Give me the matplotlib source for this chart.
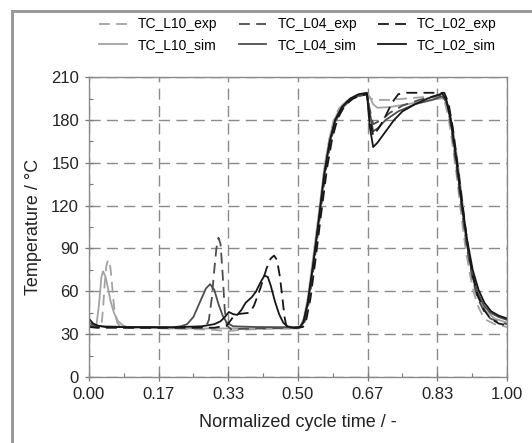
import matplotlib
matplotlib.use("Agg")
import matplotlib.pyplot as plt
from matplotlib.patches import Rectangle
from matplotlib.ticker import MultipleLocator

plt.rcParams['font.family'] = ['Liberation Sans', 'DejaVu Sans']

# === Data ===
x_l10_exp = [0, 0.02, 0.03, 0.034, 0.038, 0.042, 0.046, 0.05, 0.054, 0.058, 0.062, 0.068, 0.076, 0.1, 0.2, 0.3,
             0.33, 0.36, 0.45, 0.5, 0.508, 0.516, 0.526, 0.538, 0.55, 0.563, 0.575, 0.585, 0.598, 0.615, 0.635,
             0.655, 0.666, 0.674, 0.69, 0.72, 0.76, 0.8, 0.84, 0.85, 0.86, 0.87, 0.88, 0.89, 0.9, 0.91, 0.92,
             0.93, 0.94, 0.95, 0.97, 1.0]
y_l10_exp = [35.5, 34.5, 35, 48, 66, 78, 82, 80, 70, 56, 45, 38, 35, 34.5, 34, 33, 32, 33, 34, 34, 35.5, 41,
             56, 83, 112, 145, 166, 179, 188, 193, 196, 197.5, 198.5, 195, 194, 194, 195, 196, 196, 194, 182,
             162, 140, 115, 92, 74, 60, 50, 44, 40, 37, 35]

x_l10_sim = [0, 0.01, 0.018, 0.024, 0.03, 0.034, 0.04, 0.046, 0.052, 0.06, 0.07, 0.08, 0.09, 0.1, 0.2, 0.3,
             0.4, 0.5, 0.506, 0.514, 0.524, 0.537, 0.55, 0.564, 0.576, 0.587, 0.6, 0.615, 0.63, 0.65, 0.665,
             0.672, 0.68, 0.69, 0.72, 0.76, 0.8, 0.84, 0.85, 0.86, 0.87, 0.88, 0.89, 0.9, 0.91, 0.92, 0.93,
             0.95, 0.97, 1.0]
y_l10_sim = [36, 35, 36, 50, 70, 74, 70, 62, 53, 45, 39, 36.5, 35, 34.5, 34, 34, 34, 34, 35.5, 41, 56, 85,
             115, 148, 168, 180, 188, 193, 195.5, 197, 198, 196, 191, 188.5, 189, 191, 193, 195, 195, 190, 175,
             155, 131, 106, 84, 67, 56, 46, 41, 38]

x_l04_exp = [0, 0.02, 0.1, 0.2, 0.28, 0.287, 0.294, 0.3, 0.305, 0.31, 0.315, 0.32, 0.325, 0.33, 0.34, 0.4,
             0.5, 0.51, 0.518, 0.528, 0.54, 0.553, 0.567, 0.58, 0.593, 0.61, 0.63, 0.65, 0.665, 0.672, 0.68,
             0.7, 0.72, 0.75, 0.79, 0.83, 0.848, 0.858, 0.868, 0.88, 0.892, 0.905, 0.918, 0.93, 0.945, 0.96,
             0.98, 1.0]
y_l04_exp = [36, 35, 34.5, 34.5, 35, 40, 55, 75, 90, 97.5, 93, 72, 47, 36, 33.5, 34, 34.5, 35, 40, 55, 82,
             113, 145, 167, 181, 190, 195, 197, 198, 187, 177, 180, 185, 190, 194, 197, 197, 190, 172, 145,
             117, 89, 68, 55, 46, 41, 38.5, 37]

x_l04_sim = [0, 0.01, 0.03, 0.1, 0.2, 0.22, 0.235, 0.25, 0.265, 0.28, 0.29, 0.3, 0.31, 0.32, 0.33, 0.345, 0.4,
             0.5, 0.506, 0.513, 0.523, 0.536, 0.549, 0.562, 0.575, 0.588, 0.605, 0.625, 0.645, 0.665, 0.672,
             0.68, 0.69, 0.71, 0.74, 0.78, 0.82, 0.845, 0.855, 0.865, 0.877, 0.89, 0.903, 0.916, 0.93, 0.945,
             0.96, 0.98, 1.0]
y_l04_sim = [38, 36.5, 35.5, 35, 34.8, 35.5, 37, 42, 52, 62, 65, 61, 51, 43, 38, 35.5, 35, 34.8, 35.5, 39,
             51, 77, 107, 140, 163, 178, 188, 194, 197, 198.5, 185, 172, 174, 180, 186, 191, 194, 196.5, 193,
             180, 155, 124, 95, 73, 59, 50, 45, 42, 40]

x_l02_exp = [0, 0.02, 0.1, 0.2, 0.3, 0.33, 0.345, 0.355, 0.37, 0.385, 0.395, 0.41, 0.425, 0.435, 0.443, 0.45,
             0.457, 0.463, 0.468, 0.472, 0.48, 0.5, 0.512, 0.52, 0.53, 0.542, 0.555, 0.57, 0.582, 0.595, 0.612,
             0.632, 0.65, 0.665, 0.672, 0.68, 0.695, 0.71, 0.725, 0.74, 0.76, 0.85, 0.86, 0.87, 0.882, 0.894,
             0.906, 0.918, 0.93, 0.945, 0.96, 0.98, 1.0]
y_l02_exp = [35, 34.5, 34.5, 34.5, 34.5, 36, 42, 44, 44.5, 45, 50, 62, 76, 83, 85, 82, 70, 55, 42, 36, 34.5,
             34.5, 35, 40, 55, 82, 113, 147, 167, 181, 190, 195, 197, 198, 180, 169, 175, 183, 192, 198, 199,
             199, 192, 175, 148, 120, 92, 71, 57, 47, 41, 37.5, 36]

x_l02_sim = [0, 0.01, 0.02, 0.04, 0.2, 0.27, 0.3, 0.315, 0.325, 0.335, 0.345, 0.355, 0.365, 0.375, 0.39, 0.4,
             0.41, 0.42, 0.428, 0.435, 0.445, 0.455, 0.465, 0.475, 0.49, 0.505, 0.513, 0.523, 0.536, 0.549,
             0.563, 0.576, 0.589, 0.605, 0.625, 0.645, 0.665, 0.672, 0.68, 0.69, 0.71, 0.73, 0.75, 0.78, 0.81,
             0.845, 0.855, 0.865, 0.878, 0.89, 0.904, 0.918, 0.932, 0.946, 0.962, 0.98, 1.0]
y_l02_sim = [41, 37.5, 36, 35, 34.8, 35.5, 37, 39, 42, 45.5, 44, 43.5, 47, 52, 56, 60, 66, 71, 70, 64, 53, 44,
             38, 35.5, 34.5, 35, 38, 51, 78, 108, 142, 165, 180, 189, 195, 198, 199, 175, 161, 164, 172, 180,
             186, 191, 195, 198.5, 194, 181, 155, 126, 97, 75, 61, 52, 46, 43, 41]

xtick_vals = [0, 1/6, 2/6, 3/6, 4/6, 5/6, 1]
xtick_labels = ['0.00', '0.17', '0.33', '0.50', '0.67', '0.83', '1.00']
ytick_vals = [0, 30, 60, 90, 120, 150, 180, 210]

# === Styles ===
c_l10, c_l04, c_l02 = '#a3a3a3', '#4e4e4e', '#161616'
dash = (0, (6, 3.5))
lw = 1.3

fig = plt.figure(figsize=(5.32, 4.43), dpi=100)
ax = fig.add_axes([0.167, 0.149, 0.786, 0.677])

# grey frame of the original figure (left + top)
fig.add_artist(Rectangle((11/532, 0), 3/532, 1 - 10/443, transform=fig.transFigure,
                         color='#9a9a9a', lw=0))
fig.add_artist(Rectangle((11/532, 1 - 13/443), 1, 3/443, transform=fig.transFigure,
                         color='#9a9a9a', lw=0))

ax.plot(x_l10_exp, y_l10_exp, color=c_l10, ls=dash, lw=lw, label='TC_L10_exp')
ax.plot(x_l10_sim, y_l10_sim, color=c_l10, lw=lw, label='TC_L10_sim')
ax.plot(x_l04_exp, y_l04_exp, color=c_l04, ls=dash, lw=lw, label='TC_L04_exp')
ax.plot(x_l04_sim, y_l04_sim, color=c_l04, lw=lw, label='TC_L04_sim')
ax.plot(x_l02_exp, y_l02_exp, color=c_l02, ls=dash, lw=lw, label='TC_L02_exp')
ax.plot(x_l02_sim, y_l02_sim, color=c_l02, lw=lw, label='TC_L02_sim')

ax.set_xlim(0, 1)
ax.set_ylim(0, 210)
ax.set_xticks(xtick_vals)
ax.set_xticklabels(xtick_labels)
ax.set_yticks(ytick_vals)
ax.xaxis.set_minor_locator(MultipleLocator(1/12))
ax.yaxis.set_minor_locator(MultipleLocator(15))
ax.tick_params(which='major', direction='inout', length=6, width=0.9, color='#777777',
               labelsize=12, labelcolor='#222222', pad=4)
ax.tick_params(which='minor', direction='in', length=3, width=0.8, color='#777777')
ax.grid(True, which='major', color='#8a8a8a', ls=(0, (8, 4.5)), lw=1.0)
for s in ax.spines.values():
    s.set_color('#8a8a8a')
    s.set_linewidth(1.0)

ax.set_xlabel('Normalized cycle time / -', fontsize=13, color='#222222', labelpad=9)
ax.set_ylabel('Temperature / °C', fontsize=13, color='#222222', labelpad=7)

fig.legend(loc='center', bbox_to_anchor=(0.56, 0.922), ncol=3, frameon=False, fontsize=10,
           handlelength=2.0, handletextpad=0.8, columnspacing=1.5, labelspacing=0.45)

fig.savefig('out.png', dpi=100)
